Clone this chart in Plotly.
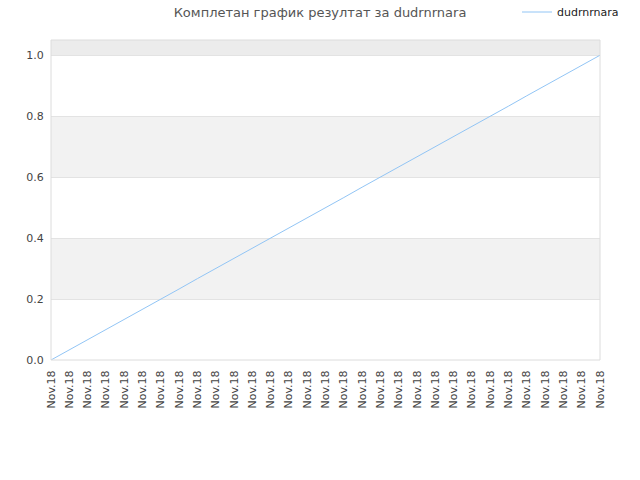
import plotly.graph_objects as go

# categories (x tick labels) and series values
dates = ["Nov.18"] * 31
values = [0.0, 0.033, 0.067, 0.1, 0.133, 0.167, 0.2, 0.233, 0.267, 0.3, 0.333,
          0.367, 0.4, 0.433, 0.467, 0.5, 0.533, 0.567, 0.6, 0.633, 0.667,
          0.7, 0.733, 0.767, 0.8, 0.833, 0.867, 0.9, 0.933, 0.967, 1.0]
y_ticks = [0.0, 0.2, 0.4, 0.6, 0.8, 1.0]
series_name = "dudrnrnara"
title = "Комплетан график резултат за dudrnrnara"

idx = list(range(len(dates)))

fig = go.Figure()
fig.add_trace(go.Scatter(
    x=idx, y=values, mode="lines", name=series_name,
    line=dict(color="#92c5f5", width=1),
))

# alternating background bands
bands = [(0.2, 0.4, "#f2f2f2"), (0.6, 0.8, "#f2f2f2"), (1.0, 1.05, "#ececec")]
shapes = [dict(type="rect", xref="paper", yref="y", x0=0, x1=1, y0=a, y1=b,
               fillcolor=c, line_width=0, layer="below") for a, b, c in bands]
shapes.append(dict(type="rect", xref="paper", yref="paper", x0=0, x1=1, y0=0, y1=1,
                   line=dict(color="#dcdcdc", width=1), layer="above"))

fig.update_layout(
    width=640, height=480,
    margin=dict(l=51, r=40, t=40, b=120, autoexpand=False),
    paper_bgcolor="white", plot_bgcolor="white",
    font=dict(family="DejaVu Sans", size=11, color="#444"),
    title=dict(text=title, x=0.5, xanchor="center", y=0.975, yanchor="middle",
               yref="container", font=dict(size=13, color="#555")),
    showlegend=True,
    legend=dict(x=0.975, xanchor="right", y=0.975, yanchor="middle", yref="container",
                xref="container", bgcolor="rgba(0,0,0,0)",
                font=dict(size=11, color="#222"), itemwidth=30),
    shapes=shapes,
    xaxis=dict(range=[0, 30], tickvals=idx, ticktext=dates, tickangle=-90,
               showgrid=False, zeroline=False, showline=False,
               ticks="outside", ticklen=5, tickcolor="rgba(0,0,0,0)", automargin=False),
    yaxis=dict(range=[0, 1.05], tickvals=y_ticks, ticktext=["0.0", "0.2", "0.4", "0.6", "0.8", "1.0"],
               showgrid=True, gridcolor="#e3e3e3", zeroline=False, showline=False,
               ticks="outside", ticklen=4, tickcolor="rgba(0,0,0,0)", automargin=False),
)

# drop the default 8px page margin so the figure sits at the window corner
fig.write_html("out.html", config={"displayModeBar": False},
               post_script="document.body.style.margin='0';")
